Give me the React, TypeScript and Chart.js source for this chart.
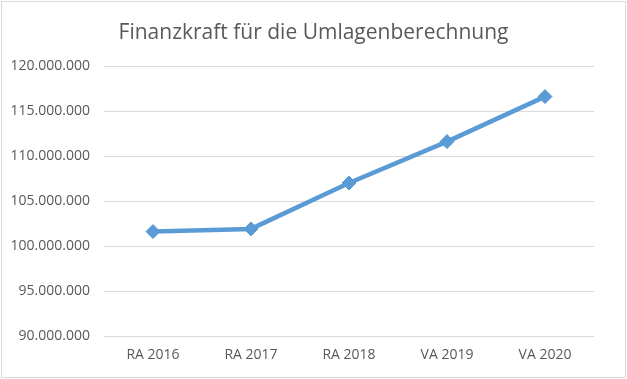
import React, { useEffect, useRef } from "react";
import { Chart, registerables } from "chart.js";

Chart.register(...registerables);

const titleText = "Finanzkraft für die Umlagenberechnung";
const categories = ["RA 2016", "RA 2017", "RA 2018", "VA 2019", "VA 2020"];
const finanzkraft = [101600000, 101900000, 107000000, 111600000, 116600000];
const yMin = 90000000;
const yMax = 120000000;
const yStep = 5000000;

const fmt = (v: number) => String(Math.round(v)).replace(/\B(?=(\d{3})+(?!\d))/g, ".");

const borderPlugin = {
  id: "outerBorder",
  beforeDraw(chart: any) {
    const ctx = chart.ctx;
    ctx.save();
    ctx.fillStyle = "#ffffff";
    ctx.fillRect(0, 0, chart.width, chart.height);
    ctx.strokeStyle = "#d9d9d9";
    ctx.lineWidth = 1;
    ctx.strokeRect(1.5, 1.5, chart.width - 3, chart.height - 3);
    ctx.restore();
  },
};

export default function App() {
  const ref = useRef<HTMLCanvasElement | null>(null);
  useEffect(() => {
    document.body.style.margin = "0";
    const font = "'Open Sans', sans-serif";
    const chart = new Chart(ref.current as HTMLCanvasElement, {
      type: "line",
      data: {
        labels: categories,
        datasets: [
          {
            data: finanzkraft,
            borderColor: "#5B9BD5",
            backgroundColor: "#5B9BD5",
            borderWidth: 4.5,
            pointStyle: "rectRot",
            pointRadius: 7,
            pointBorderWidth: 1,
            pointBackgroundColor: "#5B9BD5",
            pointBorderColor: "#5B9BD5",
            tension: 0,
            yAxisID: "y",
          },
        ],
      },
      options: {
        responsive: false,
        animation: false,
        layout: { padding: 0 },
        plugins: {
          legend: { display: false },
          tooltip: { enabled: false },
          title: {
            display: true,
            text: titleText,
            color: "#595959",
            font: { family: font, size: 21, weight: "normal", lineHeight: 1.2 },
            padding: { top: 20, bottom: 20.8 },
          },
        },
        scales: {
          x: {
            offset: true,
            grid: { display: false, drawTicks: false },
            border: { display: false },
            ticks: { color: "#595959", font: { family: font, size: 14 }, padding: 11 },
            afterFit: (s: any) => {
              s.height = 43;
            },
          },
          y: {
            min: yMin,
            max: yMax,
            grid: { color: "#d9d9d9", lineWidth: 1, drawTicks: false },
            border: { display: false },
            ticks: {
              stepSize: yStep,
              color: "#595959",
              font: { family: font, size: 14 },
              padding: 14,
              callback: (v: any) => fmt(Number(v)),
            },
            afterFit: (s: any) => {
              s.width = 104;
            },
          },
          yR: {
            position: "right",
            display: true,
            grid: { display: false, drawTicks: false },
            border: { display: false },
            ticks: { display: false },
            afterFit: (s: any) => {
              s.width = 33;
            },
          },
        },
      },
      plugins: [borderPlugin],
    });
    return () => chart.destroy();
  }, []);
  return <canvas ref={ref} width={627} height={379} style={{ display: "block" }} />;
}
